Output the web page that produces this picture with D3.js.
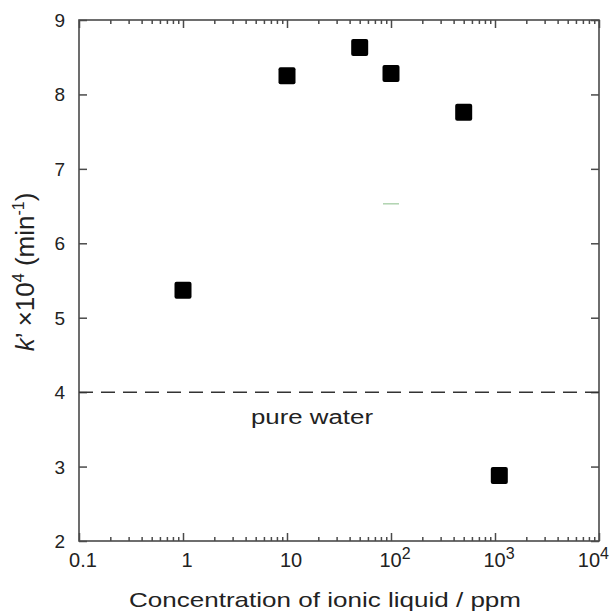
<!DOCTYPE html>
<html>
<head>
<meta charset="utf-8">
<script src="https://cdn.jsdelivr.net/npm/d3@7"></script>
<style>
  body { margin: 0; background: #fff; }
  svg text { font-family: "Liberation Sans", Arial, sans-serif; }
</style>
</head>
<body>
<div id="chart"></div>
<script>
const w = 610;
const h = 615;
const margin = { top: 20, right: 11, bottom: 74, left: 79 };

// data
const concentrations = [1, 10, 50, 100, 500, 1100];
const kValues = [5.37, 8.25, 8.63, 8.28, 7.76, 2.88];
const xMajorTicks = [0.1, 1, 10, 100, 1000, 10000];
const xTickLabels = [["0.1", ""], ["1", ""], ["10", ""], ["10", "2"], ["10", "3"], ["10", "4"]];
const yTicks = [2, 3, 4, 5, 6, 7, 8, 9];
const pureWater = 4;
const strayMark = [100, 6.53];

const x = d3.scaleLog().domain([0.1, 10000]).range([margin.left, w - margin.right]);
const y = d3.scaleLinear().domain([2, 9]).range([h - margin.bottom, margin.top]);

const xMinorTicks = [];
xMajorTicks.slice(0, -1).forEach(function (d) {
    for (let i = 2; i < 10; i++) xMinorTicks.push(d * i);
});

const svg = d3.select("#chart").append("svg")
    .attr("width", w)
    .attr("height", h);

const axisColor = "#4a4a4a";

function styleAxis(g) {
    g.select(".domain").remove();
    g.selectAll(".tick line").attr("stroke", axisColor).attr("stroke-width", 1.5);
    g.selectAll(".tick text").remove();
}

// inward ticks on all four sides
svg.append("g").attr("transform", "translate(0," + y.range()[0] + ")")
    .call(d3.axisBottom(x).tickValues(xMajorTicks).tickSize(-8)).call(styleAxis);
svg.append("g").attr("transform", "translate(0," + y.range()[0] + ")")
    .call(d3.axisBottom(x).tickValues(xMinorTicks).tickSize(-4)).call(styleAxis);
svg.append("g").attr("transform", "translate(0," + y.range()[1] + ")")
    .call(d3.axisTop(x).tickValues(xMajorTicks).tickSize(-8)).call(styleAxis);
svg.append("g").attr("transform", "translate(0," + y.range()[1] + ")")
    .call(d3.axisTop(x).tickValues(xMinorTicks).tickSize(-4)).call(styleAxis);
svg.append("g").attr("transform", "translate(" + x.range()[0] + ",0)")
    .call(d3.axisLeft(y).tickValues(yTicks).tickSize(-8)).call(styleAxis);
svg.append("g").attr("transform", "translate(" + x.range()[1] + ",0)")
    .call(d3.axisRight(y).tickValues(yTicks).tickSize(-8)).call(styleAxis);

// frame
svg.append("rect")
    .attr("x", x.range()[0])
    .attr("y", y.range()[1])
    .attr("width", x.range()[1] - x.range()[0])
    .attr("height", y.range()[0] - y.range()[1])
    .attr("fill", "none")
    .attr("stroke", axisColor)
    .attr("stroke-width", 1.6);

// y tick labels
svg.selectAll(".ylab")
    .data(yTicks)
    .enter()
    .append("text")
    .attr("class", "ylab")
    .attr("x", x.range()[0] - 14)
    .attr("y", function (d) { return y(d) + 7; })
    .attr("text-anchor", "end")
    .attr("font-size", "19px")
    .attr("fill", "#222")
    .text(function (d) { return d; });

// x tick labels with superscripts
const xl = svg.selectAll(".xlab")
    .data(xMajorTicks)
    .enter()
    .append("text")
    .attr("class", "xlab")
    .attr("x", function (d, i) { return i === xMajorTicks.length - 1 ? w - 1 : x(d) + 4; })
    .attr("y", y.range()[0] + 26)
    .attr("text-anchor", function (d, i) { return i === xMajorTicks.length - 1 ? "end" : "middle"; })
    .attr("font-size", "20px")
    .attr("fill", "#222");
xl.append("tspan").text(function (d, i) { return xTickLabels[i][0]; });
xl.append("tspan")
    .attr("dy", -8)
    .attr("font-size", "16px")
    .text(function (d, i) { return xTickLabels[i][1]; });

// pure water reference
svg.append("line")
    .attr("x1", x.range()[0])
    .attr("x2", x.range()[1])
    .attr("y1", y(pureWater))
    .attr("y2", y(pureWater))
    .attr("stroke", "#333")
    .attr("stroke-width", 1.5)
    .attr("stroke-dasharray", "14,8");

svg.append("text")
    .attr("x", 251)
    .attr("y", y(pureWater) + 32)
    .attr("font-size", "20px")
    .attr("textLength", 122)
    .attr("lengthAdjust", "spacingAndGlyphs")
    .attr("fill", "#222")
    .text("pure water");

// small stray green mark
svg.append("line")
    .attr("x1", x(strayMark[0]) - 8)
    .attr("x2", x(strayMark[0]) + 8)
    .attr("y1", y(strayMark[1]))
    .attr("y2", y(strayMark[1]))
    .attr("stroke", "#9cc89c")
    .attr("stroke-width", 1.2);

// data squares
const s = 17;
svg.selectAll(".pt")
    .data(concentrations)
    .enter()
    .append("rect")
    .attr("class", "pt")
    .attr("x", function (d) { return x(d) - s / 2; })
    .attr("y", function (d, i) { return y(kValues[i]) - s / 2; })
    .attr("width", s)
    .attr("height", s)
    .attr("rx", 2)
    .attr("fill", "#000");

// axis titles
svg.append("text")
    .attr("x", 325)
    .attr("y", 607)
    .attr("text-anchor", "middle")
    .attr("font-size", "21px")
    .attr("textLength", 392)
    .attr("lengthAdjust", "spacingAndGlyphs")
    .attr("fill", "#222")
    .text("Concentration of ionic liquid / ppm");

const yt = svg.append("text")
    .attr("transform", "translate(34,272) rotate(-90)")
    .attr("text-anchor", "middle")
    .attr("font-size", "26px")
    .attr("fill", "#222");
yt.append("tspan").attr("font-style", "italic").text("k");
yt.append("tspan").text("\u2019 \u00d710");
yt.append("tspan").attr("dy", -10).attr("font-size", "16px").text("4");
yt.append("tspan").attr("dy", 10).text(" (min");
yt.append("tspan").attr("dy", -10).attr("font-size", "16px").text("-1");
yt.append("tspan").attr("dy", 10).text(")");
</script>
</body>
</html>
